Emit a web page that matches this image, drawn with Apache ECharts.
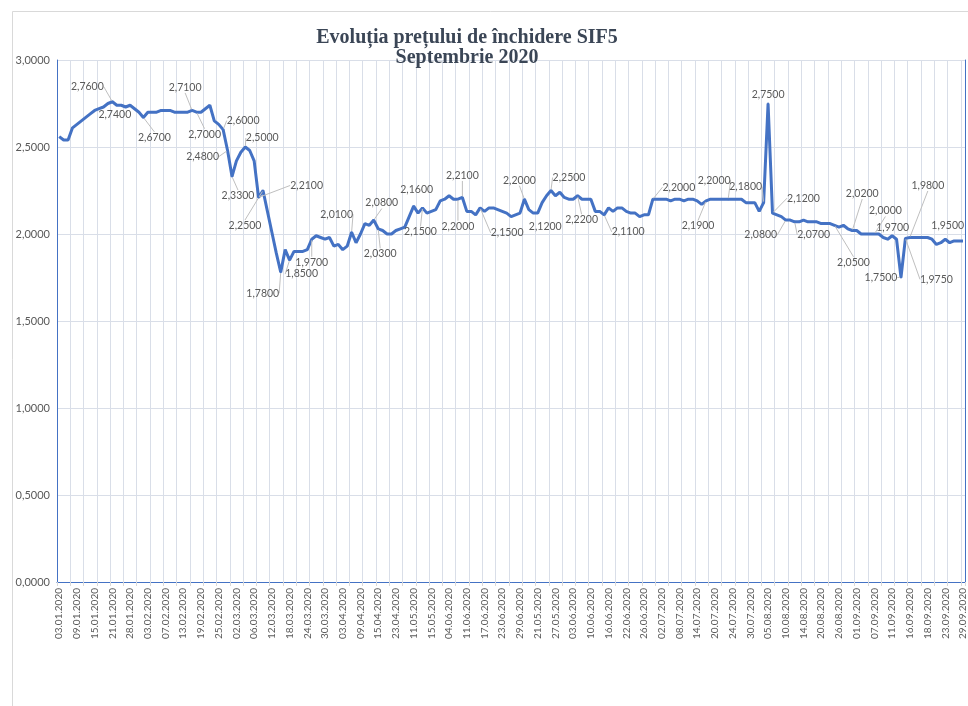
<!DOCTYPE html>
<html><head><meta charset="utf-8">
<script src="https://cdn.jsdelivr.net/npm/echarts@6/dist/echarts.min.js"></script>
<style>html,body{margin:0;padding:0;background:#fff}#c{width:968px;height:706px}</style>
</head><body><div id="c"></div>
<script>
const titleLine1 = 'Evoluția prețului de închidere SIF5';
const titleLine2 = 'Septembrie 2020';

const tickLabels = ['03.01.2020','09.01.2020','15.01.2020','21.01.2020','28.01.2020','03.02.2020','07.02.2020','13.02.2020','19.02.2020','25.02.2020','02.03.2020','06.03.2020','12.03.2020','18.03.2020','24.03.2020','30.03.2020','03.04.2020','09.04.2020','15.04.2020','23.04.2020','11.05.2020','15.05.2020','04.06.2020','11.06.2020','17.06.2020','23.06.2020','29.06.2020','21.05.2020','27.05.2020','03.06.2020','10.06.2020','16.06.2020','22.06.2020','26.06.2020','02.07.2020','08.07.2020','14.07.2020','20.07.2020','24.07.2020','30.07.2020','05.08.2020','10.08.2020','14.08.2020','20.08.2020','26.08.2020','01.09.2020','07.09.2020','11.09.2020','16.09.2020','18.09.2020','23.09.2020','29.09.2020'];

const prices = [
  2.56, 2.54, 2.54, 2.61, 2.63, 2.65, 2.67, 2.69, 2.71, 2.72,
  2.73, 2.75, 2.76, 2.74, 2.74, 2.73, 2.74, 2.72, 2.70, 2.67,
  2.70, 2.70, 2.70, 2.71, 2.71, 2.71, 2.70, 2.70, 2.70, 2.70,
  2.71, 2.70, 2.70, 2.72, 2.74, 2.65, 2.63, 2.60, 2.48, 2.33,
  2.42, 2.47, 2.50, 2.48, 2.42, 2.21, 2.25, 2.13, 2.01, 1.89,
  1.78, 1.91, 1.85, 1.90, 1.90, 1.90, 1.91, 1.97, 1.99, 1.98,
  1.97, 1.98, 1.93, 1.94, 1.91, 1.93, 2.01, 1.95, 2.00, 2.06,
  2.05, 2.08, 2.03, 2.02, 2.00, 2.00, 2.02, 2.03, 2.04, 2.10,
  2.16, 2.12, 2.15, 2.12, 2.13, 2.14, 2.19, 2.20, 2.22, 2.20,
  2.20, 2.21, 2.13, 2.13, 2.11, 2.15, 2.13, 2.15, 2.15, 2.14,
  2.13, 2.12, 2.10, 2.11, 2.12, 2.20, 2.14, 2.12, 2.12, 2.18,
  2.22, 2.25, 2.22, 2.24, 2.21, 2.20, 2.20, 2.22, 2.20, 2.20,
  2.20, 2.13, 2.13, 2.11, 2.15, 2.13, 2.15, 2.15, 2.13, 2.12,
  2.12, 2.10, 2.11, 2.11, 2.20, 2.20, 2.20, 2.20, 2.19, 2.20,
  2.20, 2.19, 2.20, 2.20, 2.19, 2.17, 2.19, 2.20, 2.20, 2.20,
  2.20, 2.20, 2.20, 2.20, 2.20, 2.18, 2.18, 2.18, 2.13, 2.18,
  2.75, 2.12, 2.11, 2.10, 2.08, 2.08, 2.07, 2.07, 2.08, 2.07,
  2.07, 2.07, 2.06, 2.06, 2.06, 2.05, 2.04, 2.05, 2.03, 2.02,
  2.02, 2.00, 2.00, 2.00, 2.00, 2.00, 1.98, 1.97, 1.99, 1.97,
  1.75, 1.975, 1.98, 1.98, 1.98, 1.98, 1.98, 1.97, 1.94, 1.95,
  1.97, 1.95, 1.96, 1.96, 1.96
];

// indices of the points that carry a data label
const labeledPoints = [12,13,19,30,31,37,38,39,42,45,46,50,52,57,66,71,72,80,82,90,91,95,105,107,111,117,123,134,146,151,159,160,161,164,166,175,179,184,187,190,191,192,201];

// layout only: offset of each callout label from its point (px)
const calloutOffsets = {
  12:[-25,-15], 13:[-2,9], 19:[11,20], 30:[-7,-23], 31:[8,22], 37:[20,-9], 38:[-25,6], 39:[6,19],
  42:[17,-9], 45:[48,-12], 46:[-18,35], 50:[-18,21], 52:[12,14], 57:[0,23], 66:[-15,-18],
  71:[8,-17], 72:[2,25], 80:[3,-17], 82:[-2,24], 90:[0,27], 91:[0,-22], 95:[27,25],
  105:[-5,-19], 107:[12,13], 111:[18,-13], 117:[4,24], 123:[24,17], 134:[26,-12],
  146:[-8,25], 151:[-14,-19], 159:[-18,-16], 160:[0,-9], 161:[31,-15], 164:[-25,15],
  166:[19,13], 175:[19,37], 179:[10,-37], 184:[11,-23], 187:[5,-12], 190:[-20,0],
  191:[31,41], 192:[18,-52], 201:[-2,-17]
};

const fmt = v => Number(v).toFixed(4).replace('.', ',');
const categories = prices.map((_, i) => String(i));
const lineColor = '#4472C4';
const textColor = '#595959';
const gridColor = '#D9DEE8';
const font = 'Lato';
const everyThird = (idx) => idx % 3 === 0;

const seriesData = prices.map((v, i) => {
  if (labeledPoints.indexOf(i) < 0) return v;
  const o = calloutOffsets[i] || [0, -12];
  const far = Math.sqrt(o[0]*o[0] + o[1]*o[1]) > 18;
  return {
    value: v, symbol: 'circle', symbolSize: 2,
    itemStyle: { color: lineColor, borderWidth: 0 },
    label: { show: true },
    labelLine: { show: far }
  };
});

const chart = echarts.init(document.getElementById('c'), null, { renderer: 'canvas' });
chart.setOption({
  animation: false,
  backgroundColor: '#ffffff',
  grid: { left: 57, right: 1, top: 60, bottom: 124, containLabel: false },
  graphic: [
    { type: 'rect', silent: true, z: -10, shape: { x: 12.5, y: 11.5, width: 1000, height: 1000 },
      style: { fill: 'none', stroke: '#D9D9D9', lineWidth: 1 } },
    { type: 'text', x: 467, y: 38, z: 100, style: { text: titleLine1, fontFamily: 'Liberation Serif', fontWeight: 'bold', fontSize: 20, fill: '#3B4656', align: 'center', verticalAlign: 'middle' } },
    { type: 'text', x: 467, y: 58, z: 100, style: { text: titleLine2, fontFamily: 'Liberation Serif', fontWeight: 'bold', fontSize: 20, fill: '#3B4656', align: 'center', verticalAlign: 'middle' } }
  ],
  xAxis: [{
    type: 'category', data: categories, boundaryGap: true,
    axisLine: { show: true, lineStyle: { color: '#D9D9D9', width: 1 } },
    axisTick: { show: true, interval: everyThird, length: 4, lineStyle: { color: '#D9D9D9' } },
    splitLine: { show: true, interval: everyThird, lineStyle: { color: gridColor, width: 1 } },
    axisLabel: {
      interval: 3, rotate: 90, margin: 6, color: textColor, fontFamily: font, fontSize: 10,
      formatter: (val, idx) => tickLabels[Math.floor(idx / 4)] || ''
    }
  }, {
    type: 'category', data: categories, position: 'top',
    axisLine: { show: true, lineStyle: { color: lineColor, width: 1 } },
    axisTick: { show: false }, axisLabel: { show: false }, splitLine: { show: false }
  }],
  yAxis: [{
    type: 'value', min: 0, max: 3, interval: 0.5,
    axisLine: { show: true, lineStyle: { color: lineColor, width: 1 } },
    axisTick: { show: false },
    splitLine: { show: true, lineStyle: { color: gridColor, width: 1 } },
    axisLabel: { margin: 7, color: textColor, fontFamily: font, fontSize: 11, formatter: v => fmt(v) }
  }, {
    type: 'value', min: 0, max: 3, interval: 0.5, position: 'right',
    axisLine: { show: true, lineStyle: { color: lineColor, width: 1 } },
    axisTick: { show: false }, axisLabel: { show: false }, splitLine: { show: false }
  }],
  series: [{
    type: 'line',
    data: seriesData,
    symbol: 'none', showSymbol: true, showAllSymbol: true,
    lineStyle: { color: lineColor, width: 3 },
    itemStyle: { color: lineColor },
    label: {
      show: false, position: 'inside', color: textColor, fontFamily: font, fontSize: 10.5,
      formatter: p => fmt(p.value)
    },
    labelLine: { show: false, lineStyle: { color: '#BFBFBF', width: 1 } },
    labelLayout: p => {
      const o = calloutOffsets[p.dataIndex];
      return o ? { dx: o[0], dy: o[1], hideOverlap: false } : {};
    },
    emphasis: { disabled: true },
    z: 5
  }]
});
</script>
</body></html>
